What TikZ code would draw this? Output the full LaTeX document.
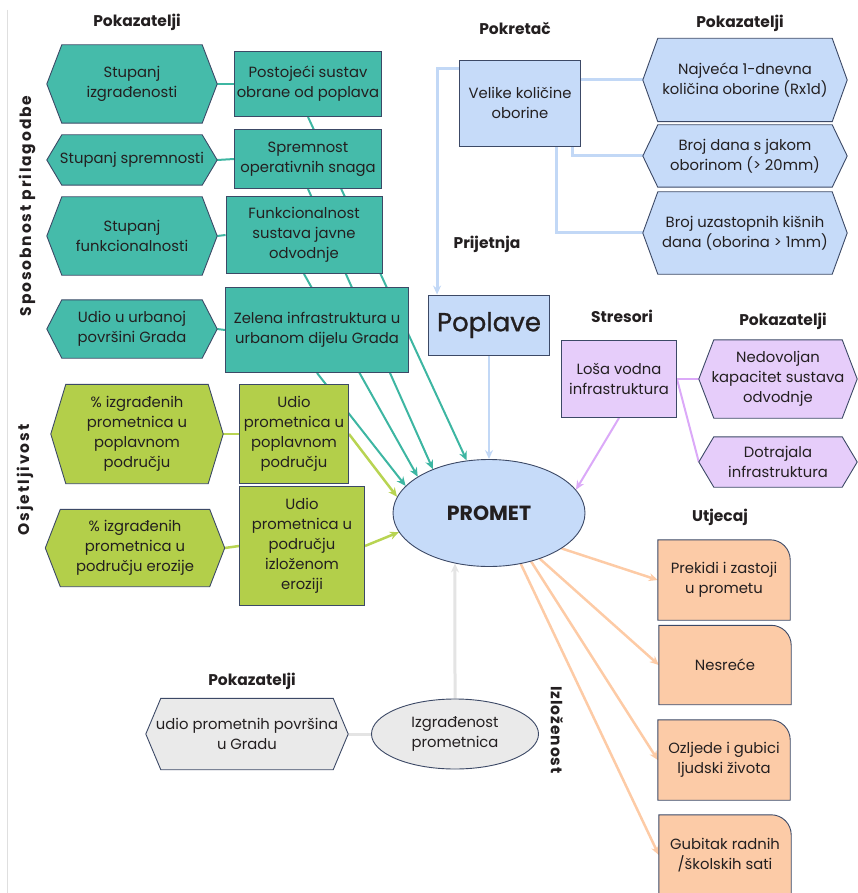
\documentclass[tikz,border=0pt]{standalone}
\usepackage{fontspec}
\setmainfont{Poppins}
\usetikzlibrary{positioning,
        shapes,
        arrows.meta,
        backgrounds}
\usepackage{xcolor}

\definecolor{tealfill}{HTML}{45BBAA}
\definecolor{tealline}{HTML}{3DB6A2}
\definecolor{greenfill}{HTML}{B3CF4A}
\definecolor{greenline}{HTML}{B8D452}
\definecolor{bluefill}{HTML}{C6DBF9}
\definecolor{blueline}{HTML}{C2D8F6}
\definecolor{purplefill}{HTML}{E6CDFA}
\definecolor{purpleline}{HTML}{DBA9F8}
\definecolor{orangefill}{HTML}{FCCBA7}
\definecolor{orangeline}{HTML}{FDCBA6}
\definecolor{grayfill}{HTML}{EAEAEA}
\definecolor{grayline}{HTML}{E4E4E4}
\definecolor{rim}{HTML}{3C4966}
\definecolor{ink}{HTML}{231F20}

\newcommand{\hexa}[2]{\draw [rimline, fill=#2] (#1.west) -- ([xshift=15pt]#1.north west) -- ([xshift=-15pt]#1.north east) -- (#1.east) -- ([xshift=-15pt]#1.south east) -- ([xshift=15pt]#1.south west) -- cycle;}
\newcommand{\impactbox}[1]{\draw [rimline, fill=orangefill] (#1.south west) -- (#1.north west) -- ([xshift=-20pt]#1.north east) arc [start angle=90, end angle=0, radius=20pt] -- (#1.south east) -- cycle;}

\begin{document}
\begin{tikzpicture}[x=1pt, y=1pt, font=\fontsize{14.8}{20}\selectfont, text=ink,
    rimline/.style={draw=rim, line width=0.9pt},
    txt/.style={align=center, inner sep=0pt},
    box/.style={txt, rimline, fill=#1},
    oval/.style={ellipse, txt, rimline, fill=#1},
    head/.style={font=\fontsize{15.5}{18}\selectfont\bfseries},
    side/.style={font=\fontsize{15.5}{18}\selectfont\bfseries\addfontfeature{LetterSpace=#1}},
    link/.style={line width=#1},
    tip/.style={-{Stealth[length=9pt, width=8pt]}}]
    \useasboundingbox (0,0) rectangle (857,-893);
    \draw [gray!25, line width=1pt] (7,-10) -- (7,-893);

    \node [head] (ind1) at (137,-22) {Pokazatelji};
    \node [head] (drv) at (515,-28) {Pokretač};
    \node [head] (ind2) at (740,-23) {Pokazatelji};
    \node [head] (thr) at (487,-244) {Prijetnja};
    \node [head] (str) at (622,-316) {Stresori};
    \node [head] (ind3) at (783,-321) {Pokazatelji};
    \node [head] (imp) at (720,-517) {Utjecaj};
    \node [head] (ind4) at (252,-681) {Pokazatelji};
    \node [side=12, rotate=90] (adapt) at (27,-206) {Sposobnost prilagodbe};
    \node [side=13, rotate=90] (sens) at (25,-480) {Osjetljivost};
    \node [side=6, rotate=-90] (expo) at (557,-730) {Izloženost};

    \node [txt, minimum width=170, minimum height=78] (izgr) at (132,-84) {Stupanj\\izgrađenosti};
    \node [txt, minimum width=170, minimum height=50] (sprem) at (132,-160) {Stupanj spremnosti};
    \node [txt, minimum width=170, minimum height=78] (funk) at (132,-236) {Stupanj\\funkcionalnosti};
    \node [txt, minimum width=170, minimum height=58] (urb) at (132,-329) {Udio u urbanoj\\površini Grada};
    \node [box=tealfill, minimum width=147, minimum height=65] (obrana) at (308,-84) {Postojeći sustav\\obrane od poplava};
    \node [box=tealfill, minimum width=147, minimum height=59] (snage) at (308,-159) {Spremnost\\operativnih snaga};
    \node [box=tealfill, minimum width=156, minimum height=77] (odvod) at (304,-235) {Funkcionalnost\\sustava javne\\odvodnje};
    \node [box=tealfill, minimum width=183, minimum height=85] (zelena) at (317,-330) {Zelena infrastruktura u\\urbanom dijelu Grada};

    \node [txt, minimum width=172, minimum height=99] (postpop) at (137,-434) {\% izgrađenih\\prometnica u\\poplavnom\\području};
    \node [txt, minimum width=179, minimum height=77] (posteroz) at (135,-548) {\% izgrađenih\\prometnica u\\području erozije};
    \node [box=greenfill, minimum width=109, minimum height=99] (udiopop) at (294,-434) {Udio\\prometnica u\\poplavnom\\području};
    \node [box=greenfill, minimum width=125, minimum height=119] (udioeroz) at (302,-546) {Udio\\prometnica u\\području\\izloženom\\eroziji};

    \node [oval=bluefill, minimum width=192, minimum height=107, font=\fontsize{20.5}{24}\selectfont\bfseries] (promet) at (489,-513) {PROMET};
    \node [box=bluefill, minimum width=121, minimum height=60, font=\fontsize{26}{30}\selectfont\addfontfeature{FakeBold=1}] (poplave) at (489,-325) {Poplave};
    \node [box=bluefill, minimum width=121, minimum height=86] (oborine) at (520,-103) {Velike količine\\oborine};
    \node [txt, minimum width=204, minimum height=83] (rx1d) at (745,-80) {Najveća 1-dnevna\\količina oborine (Rx1d)};
    \node [txt, minimum width=204, minimum height=62] (jaka) at (745,-156) {Broj dana s jakom\\oborinom (> 20mm)};
    \node [txt, minimum width=204, minimum height=82] (kisni) at (745,-233) {Broj uzastopnih kišnih\\dana (oborina > 1mm)};

    \node [box=purplefill, minimum width=115, minimum height=77] (losa) at (619,-379) {Loša vodna\\infrastruktura};
    \node [txt, minimum width=158, minimum height=78] (kapac) at (778,-379) {Nedovoljan\\kapacitet sustava\\odvodnje};
    \node [txt, minimum width=158, minimum height=50] (dotr) at (778,-462) {Dotrajala\\infrastruktura};

    \node [txt, minimum width=132, minimum height=80] (prekidi) at (724,-580) {Prekidi i zastoji\\u prometu};
    \node [txt, minimum width=132, minimum height=79] (nesrece) at (725,-665) {Nesreće};
    \node [txt, minimum width=132, minimum height=80] (ozljede) at (724,-760) {Ozljede i gubici\\ljudski života};
    \node [txt, minimum width=132, minimum height=80] (gubitak) at (725,-855) {Gubitak radnih\\/školskih sati};

    \node [txt, minimum width=202, minimum height=71] (povrs) at (247,-734) {udio prometnih površina\\u Gradu};
    \node [oval=grayfill, minimum width=167, minimum height=70] (izgprom) at (455,-734) {Izgrađenost\\prometnica};

    \begin{scope}[on background layer]
        \draw [link=2pt, tealline] (izgr.east) -- (obrana.west);
        \draw [link=2pt, tealline] (sprem.east) -- (snage.west);
        \draw [link=2pt, tealline] (funk.east) -- (odvod.west);
        \draw [link=2pt, tealline] (urb.east) -- (zelena.west);
        \draw [link=2pt, tealline, tip] (obrana.south) -- (promet.113);
        \draw [link=2pt, tealline, tip] (snage.south) -- (promet.142);
        \draw [link=2pt, tealline, tip] (odvod.south) -- (promet.153);
        \draw [link=2pt, tealline, tip] (zelena.south) -- (promet.162);

        \draw [link=2.5pt, greenline] (postpop.east) -- (udiopop.west);
        \draw [link=2.5pt, greenline] (posteroz.east) -- (udioeroz.west);
        \draw [link=2.5pt, greenline, tip] (udiopop.east) -- (promet.170);
        \draw [link=2.5pt, greenline, tip] (udioeroz.east) -- (promet.192);

        \draw [link=3pt, blueline, tip] ([yshift=-9pt]oborine.north west) -| ([xshift=9pt]poplave.north west);
        \draw [link=3pt, blueline] (rx1d.west -| oborine.east) -- (rx1d.west);
        \draw [link=3pt, blueline] ([xshift=-8pt]oborine.south east) |- (jaka.west);
        \draw [link=3pt, blueline] ([xshift=-24pt]oborine.south east) |- (kisni.west);
        \draw [link=2.5pt, blueline, tip] (poplave.south) -- (promet.north);

        \draw [link=2pt, purpleline, tip] (losa.south) -- (promet.15);
        \draw [link=2pt, purpleline] (losa.east) -- (kapac.west);
        \draw [link=2pt, purpleline] (losa.east) -- (dotr.west);

        \draw [link=2.5pt, orangeline, tip] (promet.-26) -- (prekidi.west);
        \draw [link=2.5pt, orangeline, tip] (promet.-42) -- (nesrece.west);
        \draw [link=2.5pt, orangeline, tip] (promet.-49) -- (ozljede.west);
        \draw [link=2.5pt, orangeline, tip] (promet.-58) -- (gubitak.west);

        \draw [link=3pt, grayline] (povrs.east) -- (izgprom.west);
        \draw [link=3pt, grayline, tip] (izgprom.north) -- (promet.236);

        \hexa{izgr}{tealfill}
        \hexa{sprem}{tealfill}
        \hexa{funk}{tealfill}
        \hexa{urb}{tealfill}
        \hexa{postpop}{greenfill}
        \hexa{posteroz}{greenfill}
        \hexa{rx1d}{bluefill}
        \hexa{jaka}{bluefill}
        \hexa{kisni}{bluefill}
        \hexa{kapac}{purplefill}
        \hexa{dotr}{purplefill}
        \hexa{povrs}{grayfill}
        \impactbox{prekidi}
        \impactbox{nesrece}
        \impactbox{ozljede}
        \impactbox{gubitak}
    \end{scope}
\end{tikzpicture}
\end{document}
